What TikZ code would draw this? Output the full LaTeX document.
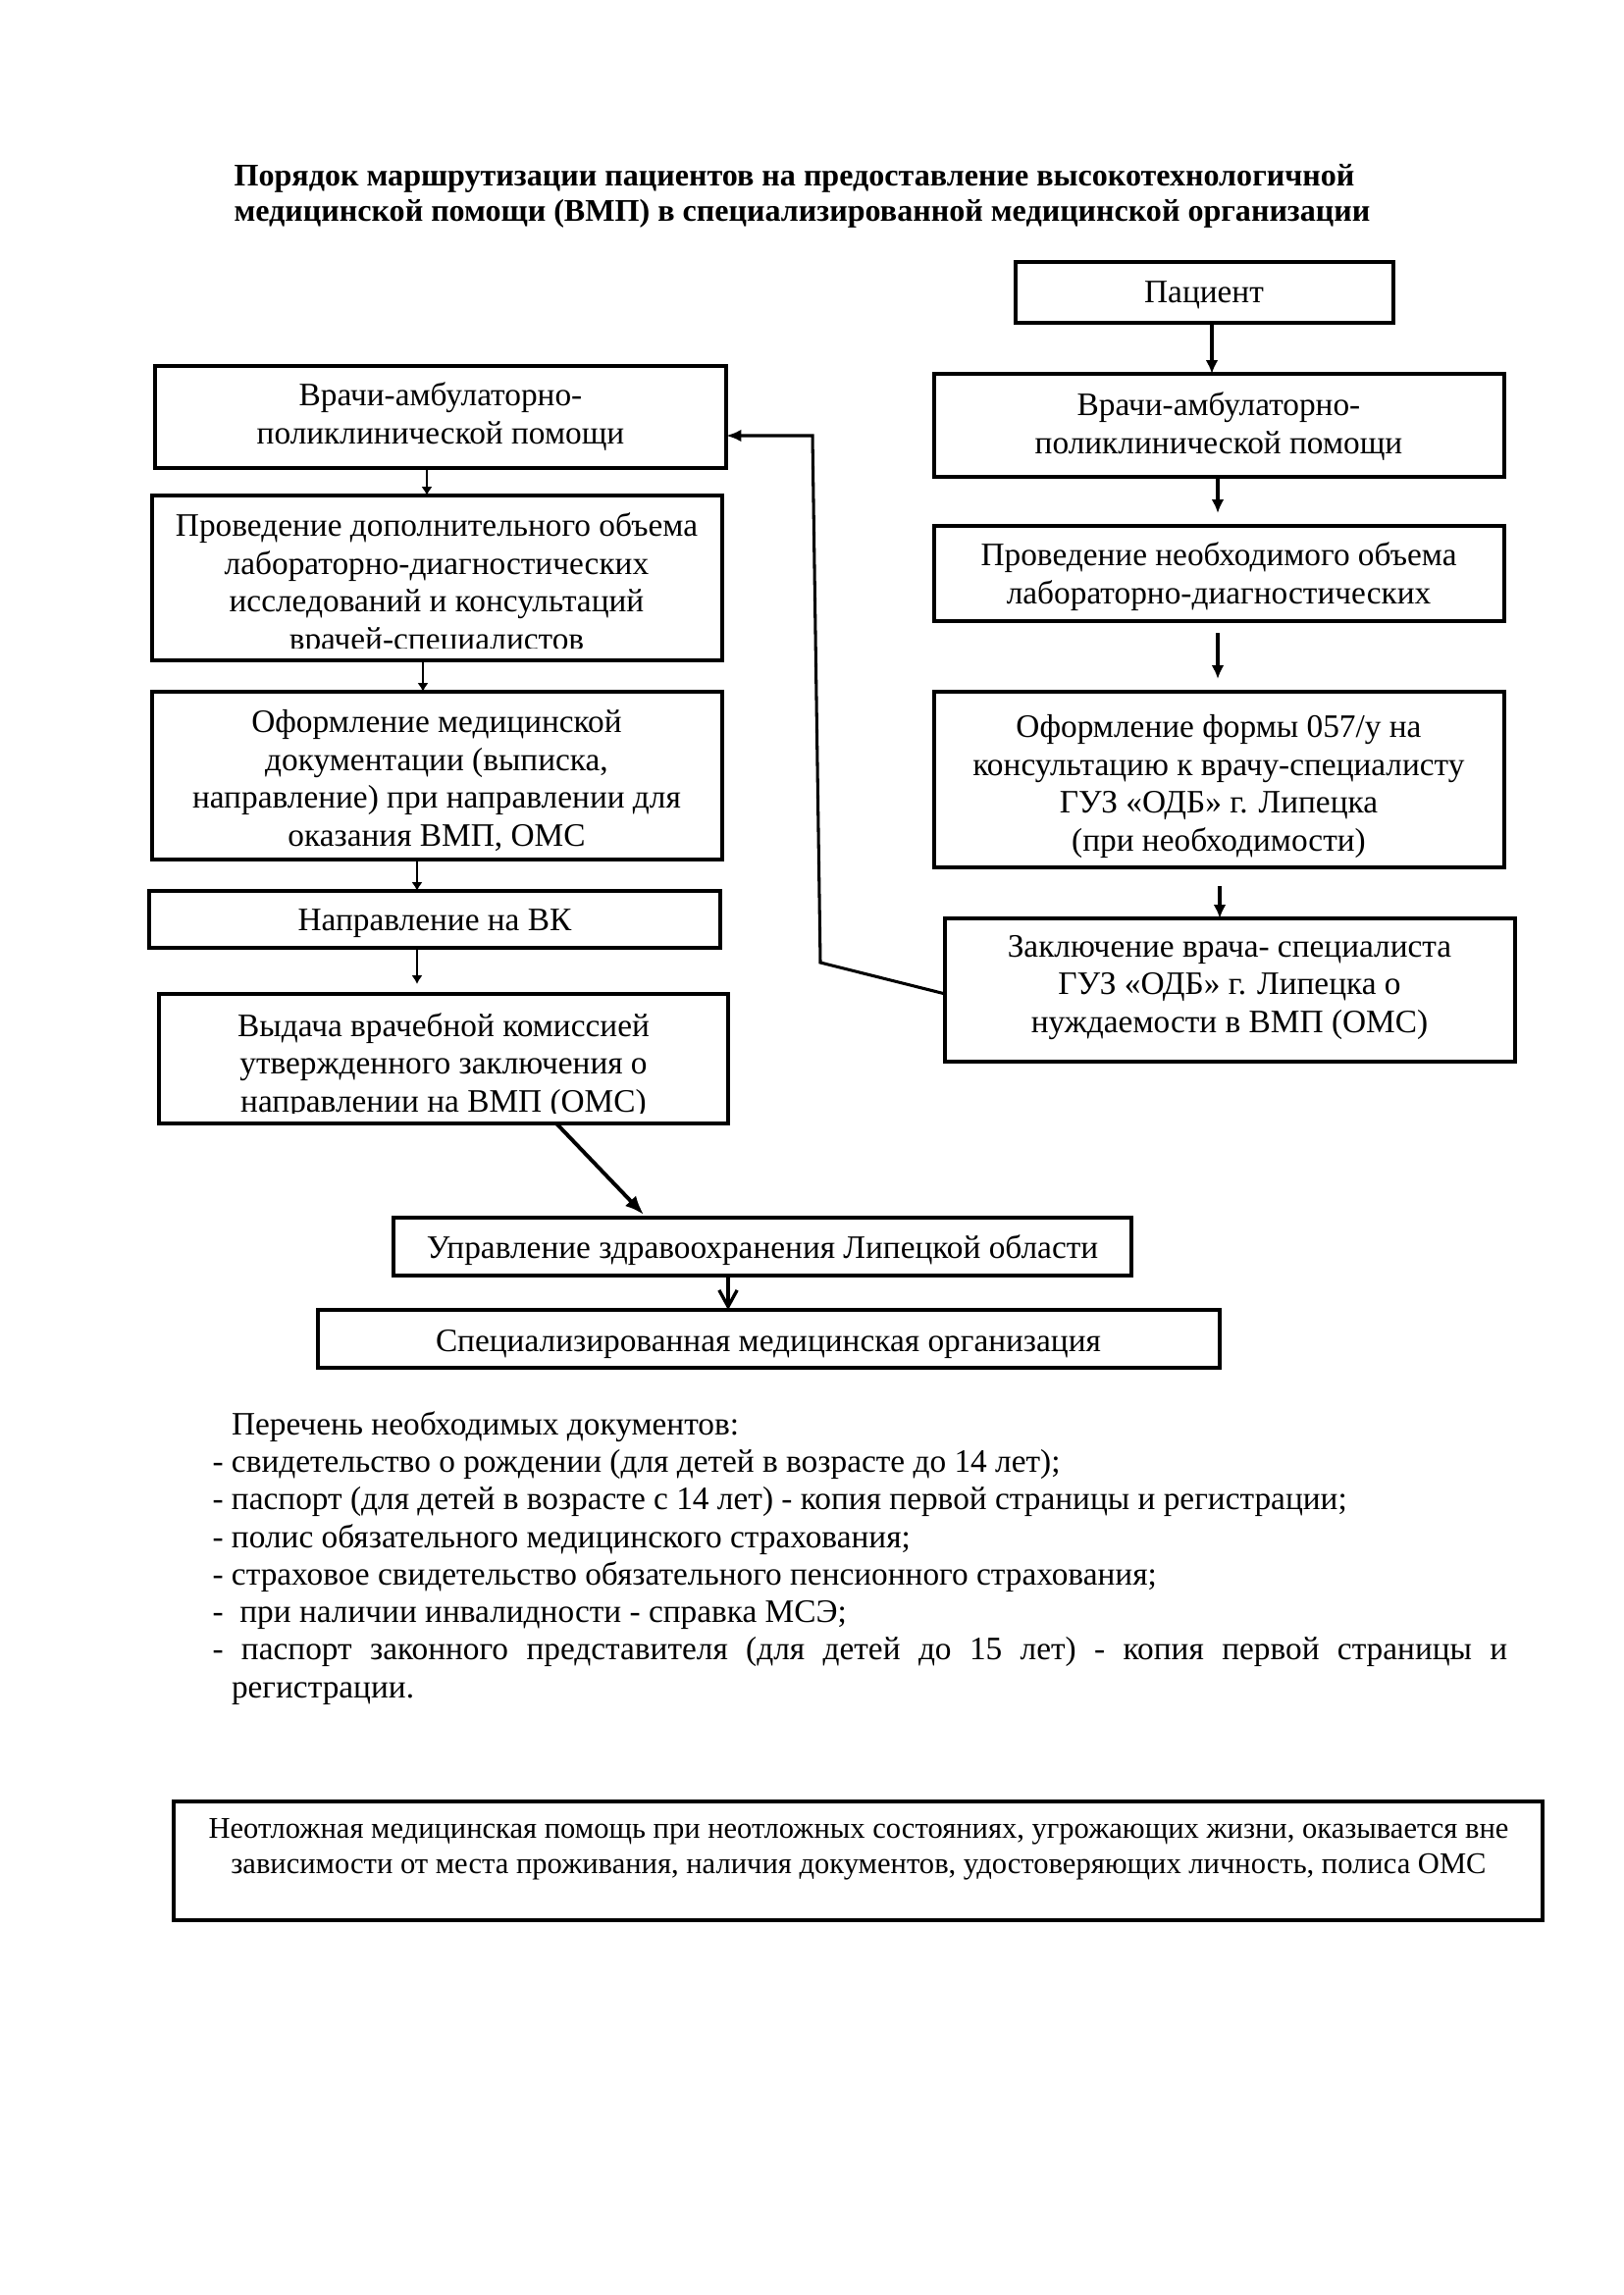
\documentclass[tikz,border=0pt]{standalone}
\usepackage{fontspec}
\setmainfont{Liberation Serif}
\usetikzlibrary{arrows.meta}
\newdimen\pxu \pxu=0.35991pt
\newcommand\pbox[5]{\node[boxs, minimum width={(#4-#2)*\pxu}, minimum height={(#5-#3)*\pxu}] (#1) at ({(#2+#4)/2},{(#3+#5)/2}) {};}
\tikzset{
  boxs/.style={draw, line width=1.1pt, rectangle, inner sep=0pt, outer sep=0pt},
  txt/.style={font=\fontsize{12}{13.8}\selectfont, align=center, inner sep=0pt, anchor=base},
  arr/.style={line width=0.85pt, -{Latex[length=3.2pt,width=4pt]}},
  rarr/.style={line width=1.1pt, -{Latex[length=5pt,width=4.6pt]}},
}
\begin{document}
\begin{tikzpicture}[x=0.35991pt, y=-0.35991pt]
\fill[white] (0,0) rectangle (1654,2339);
\useasboundingbox (0,0) rectangle (1654,2339);

% title (anchor = baseline of last line)
\node[font=\fontsize{11.55}{13.1}\bfseries, align=left, inner sep=0pt, anchor=base west] (title) at (238,226)
  {Порядок маршрутизации пациентов на предоставление высокотехнологичной\\
   медицинской помощи (ВМП) в специализированной медицинской организации};

% right column
\pbox{pac}{1035}{267}{1420}{329}
\node[txt] (pact) at (1227,309) {Пациент};
\pbox{rb1}{952}{381}{1533}{486}
\node[txt] (rb1t) at (1242,462) {Врачи-амбулаторно-\\поликлинической помощи};
\pbox{rb2}{952}{536}{1533}{633}
\node[txt] (rb2t) at (1242,615) {Проведение необходимого объема\\лабораторно-диагностических};
\pbox{rb3}{952}{705}{1533}{884}
\node[txt] (rb3t) at (1242,867) {Оформление формы 057/у на\\консультацию к врачу-специалисту\\ГУЗ «ОДБ» г. Липецка\\(при необходимости)};
\pbox{rb4}{963}{936}{1544}{1082}
\node[txt] (rb4t) at (1253,1052) {Заключение врача- специалиста\\ГУЗ «ОДБ» г. Липецка о\\нуждаемости в ВМП (ОМС)};

% left column
\pbox{lb1}{158}{373}{740}{477}
\node[txt] (lb1t) at (449,452) {Врачи-амбулаторно-\\поликлинической помощи};
\pbox{lb2}{155}{505}{736}{673}
\begin{scope}
\clip (155,505) rectangle (736,660);
\node[txt] (lb2t) at (445,662) {Проведение дополнительного объема\\лабораторно-диагностических\\исследований и консультаций\\врачей-специалистов};
\end{scope}
\pbox{lb3}{155}{705}{736}{876}
\node[txt] (lb3t) at (445,862) {Оформление медицинской\\документации (выписка,\\направление) при направлении для\\оказания ВМП, ОМС};
\pbox{lb4}{152}{908}{734}{966}
\node[txt] (lb4t) at (443,948) {Направление на ВК};
\pbox{lb5}{162}{1013}{742}{1145}
\begin{scope}
\clip (162,1013) rectangle (742,1134);
\node[txt] (lb5t) at (452,1133) {Выдача врачебной комиссией\\утвержденного заключения о\\направлении на ВМП (ОМС)};
\end{scope}

% bottom boxes
\pbox{upr}{401}{1241}{1153}{1300}
\node[txt] (uprt) at (777,1282) {Управление здравоохранения Липецкой области};
\pbox{spec}{324}{1335}{1243}{1394}
\node[txt] (spect) at (783,1377) {Специализированная медицинская организация};

% arrows right
\draw[rarr] (pac.south -| 1235,0) -- (rb1.north -| 1235,0);
\draw[rarr, shorten >=13*\pxu] (rb1.south -| 1241,0) -- (rb2.north -| 1241,0);
\draw[rarr, shorten <=12*\pxu, shorten >=13*\pxu] (rb2.south -| 1241,0) -- (rb3.north -| 1241,0);
\draw[rarr, shorten <=19*\pxu] (rb3.south -| 1243,0) -- (rb4.north -| 1243,0);
% arrows left
\draw[arr] (lb1.south -| 435,0) -- (lb2.north -| 435,0);
\draw[arr] (lb2.south -| 431,0) -- (lb3.north -| 431,0);
\draw[arr] (lb3.south -| 425,0) -- (lb4.north -| 425,0);
\draw[arr, shorten >=10*\pxu] (lb4.south -| 425,0) -- (lb5.north -| 425,0);
% feedback
\coordinate (fb1) at (836,981);
\coordinate (fb2) at (828,444);
\draw[line width=1.1pt, -{Latex[length=5.5pt,width=4.5pt]}] ([yshift=-1.4pt]rb4.west) -- (fb1) -- (fb2) -- (lb1.east |- fb2);
% diagonal
\draw[line width=1.4pt, -{Latex[length=7pt,width=5.5pt]}, shorten >=1.5pt] (lb5.south -| 567,0) -- (upr.north -| 659,0);
% upr -> spec
\draw[line width=1.2pt, -{Straight Barb[length=6pt,width=6.6pt]}] (upr.south -| 742,0) -- (spec.north -| 742,0);

% documents list (anchor = baseline of last line)
\node[font=\fontsize{12}{13.75}\selectfont, align=left, inner sep=0pt, anchor=base west] (docs) at (216,1730)
  {\hspace*{7pt}Перечень необходимых документов:\\
   - свидетельство о рождении (для детей в возрасте до 14 лет);\\
   - паспорт (для детей в возрасте с 14 лет) - копия первой страницы и регистрации;\\
   - полис обязательного медицинского страхования;\\
   - страховое свидетельство обязательного пенсионного страхования;\\
   -\ \ при наличии инвалидности - справка МСЭ;\\
   \makebox[475pt][s]{- паспорт законного представителя (для детей до 15 лет) - копия первой страницы и}\\
   \hspace*{7pt}регистрации.};

% note box
\pbox{note}{177}{1836}{1572}{1957}
\node[font=\fontsize{11}{12.95}\selectfont, align=center, inner sep=0pt, anchor=base] (notet) at (875,1909)
  {Неотложная медицинская помощь при неотложных состояниях, угрожающих жизни, оказывается вне\\
   зависимости от места проживания, наличия документов, удостоверяющих личность, полиса ОМС};
\end{tikzpicture}
\end{document}
